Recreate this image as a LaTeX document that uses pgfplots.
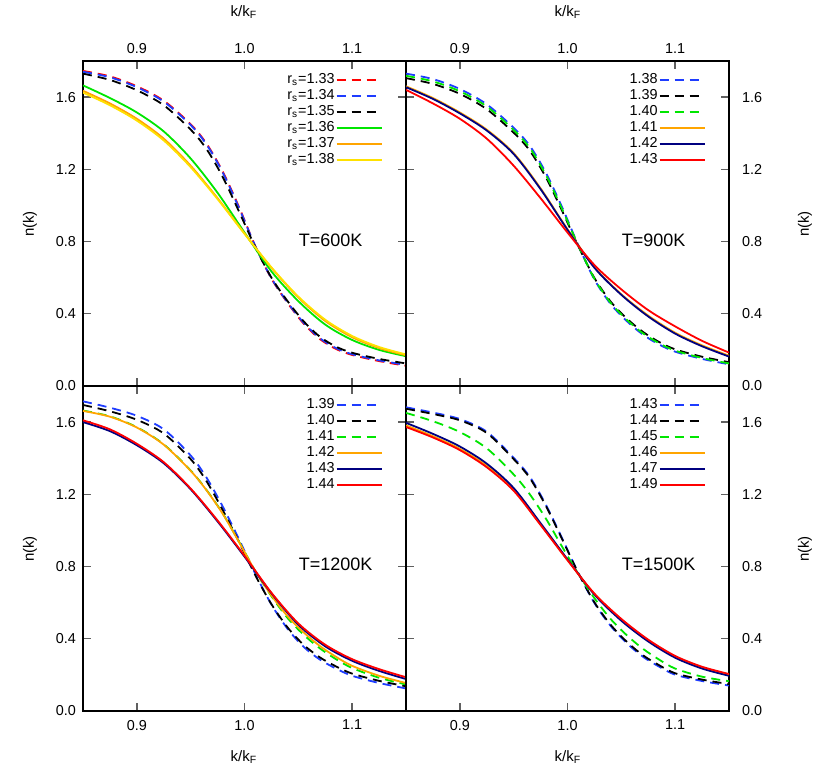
\documentclass[border=0pt]{standalone}
\usepackage{pgfplots}
\pgfplotsset{compat=1.18}
\usepackage{fontspec}
\setmainfont{Liberation Sans}
\definecolor{cblue}{RGB}{30,60,255}
\definecolor{cgreen}{RGB}{0,230,0}
\definecolor{corange}{RGB}{255,165,0}
\definecolor{cyellow}{RGB}{255,225,0}
\definecolor{cnavy}{RGB}{0,0,128}
\definecolor{cred}{RGB}{255,0,0}
\pgfplotsset{
  dsh/.style={dash pattern=on 4.5pt off 3pt},
  panel/.style={
    width=161.5pt, height=162.5pt, scale only axis,
    xmin=0.85,xmax=1.15,ymin=0,ymax=1.8,
    xtick={0.9,1.0,1.1}, ytick={0,0.4,0.8,1.2,1.6},
    tick align=inside, major tick length=4pt,
    tick style={gray!75!black, line width=0.7pt},
    axis line style={line width=0.8pt},
    /pgf/number format/assume math mode=true,
    ticklabel style={font=\fontsize{7.2}{8}\selectfont},
    xticklabel style={/pgf/number format/fixed,/pgf/number format/fixed zerofill,/pgf/number format/precision=1},
    yticklabel style={/pgf/number format/fixed,/pgf/number format/fixed zerofill,/pgf/number format/precision=1},
    legend style={draw=none, fill=none, at={(0.947,0.98)}, anchor=north east,
      font=\fontsize{7.2}{8}\selectfont, row sep=0pt,
      nodes={inner sep=0.5pt, text height=5.4pt, text depth=1.6pt}},
    legend cell align=right, legend plot pos=right,
    legend image code/.code={\draw[#1] (0pt,0pt) -- (22.5pt,0pt);},
    every axis plot/.append style={line width=0.9pt, smooth},
  },
  rightlab/.style={yticklabel pos=right, yticklabel style={/tikz/xshift=3pt}},
  botlab/.style={xticklabel style={/tikz/yshift=-1pt}},
}
\begin{document}
\begin{tikzpicture}
% ---------------- Top left: T=600K
\begin{axis}[panel, at={(41.5pt,193pt)}, anchor=south west, xticklabel pos=upper]
\addplot[cred,dsh] coordinates {(0.85,1.745)(0.875,1.715)(0.9,1.66)(0.925,1.58)(0.95,1.45)(0.965,1.34)(0.98,1.185)(0.995,0.99)(1.01,0.775)(1.025,0.595)(1.04,0.46)(1.055,0.345)(1.07,0.26)(1.085,0.205)(1.1,0.172)(1.125,0.138)(1.15,0.112)};
\addlegendentry{r\textsubscript{s}=1.33}
\addplot[cblue,dsh] coordinates {(0.85,1.74)(0.875,1.71)(0.9,1.655)(0.925,1.575)(0.95,1.445)(0.965,1.335)(0.98,1.18)(0.995,0.985)(1.01,0.775)(1.025,0.597)(1.04,0.463)(1.055,0.35)(1.07,0.265)(1.085,0.21)(1.1,0.176)(1.125,0.142)(1.15,0.117)};
\addlegendentry{r\textsubscript{s}=1.34}
\addplot[black,dsh] coordinates {(0.85,1.73)(0.875,1.695)(0.9,1.638)(0.925,1.555)(0.95,1.42)(0.965,1.31)(0.98,1.155)(0.995,0.965)(1.01,0.77)(1.025,0.6)(1.04,0.47)(1.055,0.358)(1.07,0.273)(1.085,0.218)(1.1,0.184)(1.125,0.15)(1.15,0.125)};
\addlegendentry{r\textsubscript{s}=1.35}
\addplot[cgreen] coordinates {(0.85,1.665)(0.875,1.595)(0.9,1.515)(0.925,1.41)(0.95,1.26)(0.975,1.07)(1.0,0.85)(1.025,0.635)(1.05,0.47)(1.075,0.34)(1.1,0.255)(1.125,0.2)(1.15,0.165)};
\addlegendentry{r\textsubscript{s}=1.36}
\addplot[corange] coordinates {(0.85,1.635)(0.875,1.565)(0.9,1.48)(0.925,1.37)(0.95,1.22)(0.975,1.04)(1.0,0.845)(1.025,0.655)(1.05,0.49)(1.075,0.36)(1.1,0.27)(1.125,0.21)(1.15,0.17)};
\addlegendentry{r\textsubscript{s}=1.37}
\addplot[cyellow] coordinates {(0.85,1.625)(0.875,1.555)(0.9,1.47)(0.925,1.36)(0.95,1.212)(0.975,1.035)(1.0,0.843)(1.025,0.657)(1.05,0.495)(1.075,0.367)(1.1,0.277)(1.125,0.216)(1.15,0.175)};
\addlegendentry{r\textsubscript{s}=1.38}
\node[anchor=west,font=\fontsize{9}{10}\selectfont] at (axis cs:1.044,0.805) {T=600K};
\end{axis}
% ---------------- Top right: T=900K
\begin{axis}[panel, rightlab, at={(203pt,193pt)}, anchor=south west, xticklabel pos=upper]
\addplot[cblue,dsh] coordinates {(0.85,1.73)(0.875,1.70)(0.9,1.645)(0.925,1.56)(0.95,1.43)(0.965,1.33)(0.98,1.18)(0.995,0.99)(1.01,0.78)(1.025,0.59)(1.04,0.455)(1.055,0.36)(1.07,0.285)(1.085,0.23)(1.1,0.19)(1.125,0.15)(1.15,0.12)};
\addlegendentry{1.38}
\addplot[black,dsh] coordinates {(0.85,1.705)(0.875,1.673)(0.9,1.618)(0.925,1.533)(0.95,1.403)(0.965,1.303)(0.98,1.155)(0.995,0.97)(1.01,0.775)(1.025,0.598)(1.04,0.468)(1.055,0.374)(1.07,0.3)(1.085,0.244)(1.1,0.203)(1.125,0.162)(1.15,0.132)};
\addlegendentry{1.39}
\addplot[cgreen,dsh] coordinates {(0.85,1.718)(0.875,1.687)(0.9,1.632)(0.925,1.548)(0.95,1.418)(0.965,1.318)(0.98,1.168)(0.995,0.98)(1.01,0.778)(1.025,0.594)(1.04,0.461)(1.055,0.367)(1.07,0.292)(1.085,0.237)(1.1,0.196)(1.125,0.155)(1.15,0.125)};
\addlegendentry{1.40}
\addplot[corange] coordinates {(0.85,1.66)(0.875,1.595)(0.9,1.515)(0.925,1.42)(0.95,1.29)(0.975,1.095)(1.0,0.868)(1.025,0.658)(1.05,0.508)(1.075,0.39)(1.1,0.295)(1.125,0.225)(1.15,0.168)};
\addlegendentry{1.41}
\addplot[cnavy] coordinates {(0.85,1.655)(0.875,1.59)(0.9,1.51)(0.925,1.415)(0.95,1.285)(0.975,1.09)(1.0,0.865)(1.025,0.655)(1.05,0.505)(1.075,0.385)(1.1,0.29)(1.125,0.22)(1.15,0.163)};
\addlegendentry{1.42}
\addplot[cred] coordinates {(0.85,1.64)(0.875,1.565)(0.9,1.48)(0.925,1.37)(0.95,1.22)(0.975,1.04)(1.0,0.85)(1.025,0.67)(1.05,0.535)(1.075,0.42)(1.1,0.33)(1.125,0.25)(1.15,0.185)};
\addlegendentry{1.43}
\node[anchor=west,font=\fontsize{9}{10}\selectfont] at (axis cs:1.044,0.805) {T=900K};
\end{axis}
% ---------------- Bottom left: T=1200K
\begin{axis}[panel, botlab, at={(41.5pt,30.5pt)}, anchor=south west]
\addplot[cblue,dsh] coordinates {(0.85,1.715)(0.875,1.68)(0.9,1.635)(0.925,1.56)(0.95,1.415)(0.965,1.29)(0.98,1.13)(0.995,0.95)(1.01,0.76)(1.025,0.59)(1.04,0.455)(1.055,0.355)(1.07,0.285)(1.085,0.235)(1.1,0.195)(1.125,0.155)(1.15,0.125)};
\addlegendentry{1.39}
\addplot[black,dsh] coordinates {(0.85,1.695)(0.875,1.66)(0.9,1.613)(0.925,1.537)(0.95,1.395)(0.965,1.27)(0.98,1.11)(0.995,0.935)(1.01,0.752)(1.025,0.592)(1.04,0.463)(1.055,0.366)(1.07,0.297)(1.085,0.247)(1.1,0.207)(1.125,0.167)(1.15,0.137)};
\addlegendentry{1.40}
\addplot[cgreen,dsh] coordinates {(0.85,1.664)(0.875,1.632)(0.9,1.572)(0.925,1.477)(0.95,1.332)(0.965,1.222)(0.98,1.092)(0.995,0.937)(1.01,0.775)(1.025,0.636)(1.04,0.515)(1.055,0.422)(1.07,0.347)(1.085,0.287)(1.1,0.238)(1.125,0.184)(1.15,0.147)};
\addlegendentry{1.41}
\addplot[corange] coordinates {(0.85,1.662)(0.875,1.63)(0.9,1.57)(0.925,1.475)(0.95,1.33)(0.965,1.22)(0.98,1.09)(0.995,0.935)(1.01,0.775)(1.025,0.64)(1.04,0.525)(1.055,0.435)(1.07,0.36)(1.085,0.30)(1.1,0.25)(1.125,0.195)(1.15,0.155)};
\addlegendentry{1.42}
\addplot[cnavy] coordinates {(0.85,1.60)(0.875,1.55)(0.9,1.472)(0.925,1.372)(0.95,1.228)(0.975,1.05)(1.0,0.855)(1.025,0.652)(1.05,0.478)(1.075,0.358)(1.1,0.278)(1.125,0.222)(1.15,0.177)};
\addlegendentry{1.43}
\addplot[cred] coordinates {(0.85,1.61)(0.875,1.56)(0.9,1.48)(0.925,1.378)(0.95,1.232)(0.975,1.055)(1.0,0.86)(1.025,0.655)(1.05,0.485)(1.075,0.367)(1.1,0.287)(1.125,0.232)(1.15,0.187)};
\addlegendentry{1.44}
\node[anchor=west,font=\fontsize{9}{10}\selectfont] at (axis cs:1.044,0.815) {T=1200K};
\end{axis}
% ---------------- Bottom right: T=1500K
\begin{axis}[panel, botlab, rightlab, at={(203pt,30.5pt)}, anchor=south west]
\addplot[cblue,dsh] coordinates {(0.85,1.682)(0.875,1.653)(0.9,1.617)(0.925,1.547)(0.95,1.402)(0.965,1.297)(0.98,1.142)(0.995,0.957)(1.01,0.765)(1.025,0.598)(1.04,0.472)(1.055,0.376)(1.07,0.301)(1.085,0.246)(1.1,0.201)(1.125,0.166)(1.15,0.141)};
\addlegendentry{1.43}
\addplot[black,dsh] coordinates {(0.85,1.674)(0.875,1.645)(0.9,1.61)(0.925,1.54)(0.95,1.395)(0.965,1.29)(0.98,1.135)(0.995,0.952)(1.01,0.765)(1.025,0.602)(1.04,0.478)(1.055,0.384)(1.07,0.309)(1.085,0.254)(1.1,0.209)(1.125,0.174)(1.15,0.149)};
\addlegendentry{1.44}
\addplot[cgreen,dsh] coordinates {(0.85,1.651)(0.875,1.605)(0.9,1.545)(0.925,1.455)(0.95,1.31)(0.965,1.2)(0.98,1.065)(0.995,0.91)(1.01,0.76)(1.025,0.625)(1.04,0.51)(1.055,0.42)(1.07,0.345)(1.085,0.285)(1.1,0.235)(1.125,0.19)(1.15,0.165)};
\addlegendentry{1.45}
\addplot[corange] coordinates {(0.85,1.582)(0.875,1.522)(0.9,1.452)(0.925,1.358)(0.95,1.226)(0.975,1.034)(1.0,0.837)(1.025,0.648)(1.05,0.506)(1.075,0.391)(1.1,0.301)(1.125,0.241)(1.15,0.2)};
\addlegendentry{1.46}
\addplot[cnavy] coordinates {(0.85,1.596)(0.875,1.535)(0.9,1.465)(0.925,1.37)(0.95,1.235)(0.975,1.04)(1.0,0.84)(1.025,0.645)(1.05,0.5)(1.075,0.385)(1.1,0.295)(1.125,0.235)(1.15,0.195)};
\addlegendentry{1.47}
\addplot[cred] coordinates {(0.85,1.573)(0.875,1.515)(0.9,1.445)(0.925,1.35)(0.95,1.22)(0.975,1.03)(1.0,0.835)(1.025,0.65)(1.05,0.51)(1.075,0.395)(1.1,0.305)(1.125,0.245)(1.15,0.205)};
\addlegendentry{1.49}
\node[anchor=west,font=\fontsize{9}{10}\selectfont] at (axis cs:1.044,0.815) {T=1500K};
\end{axis}
% ---------------- axis titles
\begin{scope}[every node/.style={font=\fontsize{7.5}{9}\selectfont}]
\node at (122pt,380pt) {k/k\textsubscript{F}};
\node at (284pt,380pt) {k/k\textsubscript{F}};
\node at (122pt,7.5pt) {k/k\textsubscript{F}};
\node at (284pt,7.5pt) {k/k\textsubscript{F}};
\node[rotate=90] at (15pt,274pt) {n(k)};
\node[rotate=90] at (15pt,111.5pt) {n(k)};
\node[rotate=90] at (402.5pt,274pt) {n(k)};
\node[rotate=90] at (402.5pt,111.5pt) {n(k)};
\end{scope}
\pgfresetboundingbox
\path (0,0) rectangle (415.5pt,386pt);
\end{tikzpicture}
\end{document}
